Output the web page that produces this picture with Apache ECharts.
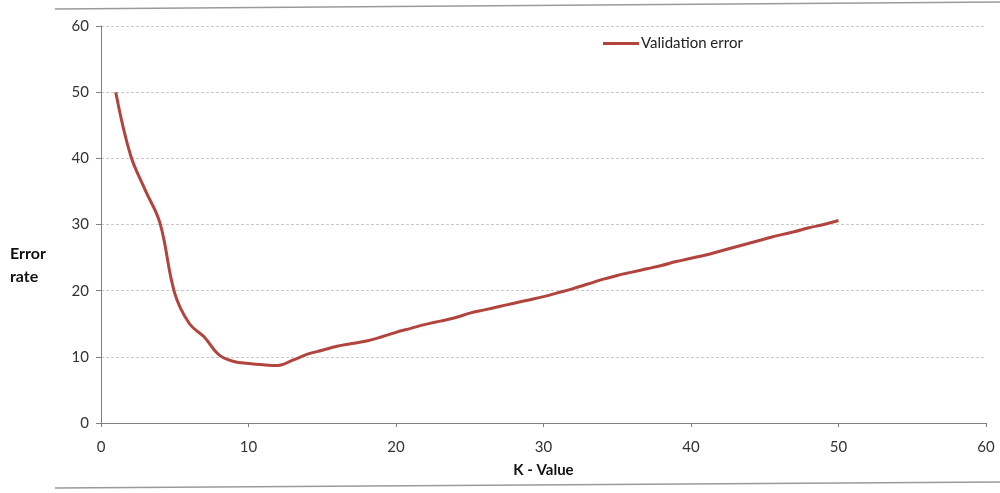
<!DOCTYPE html>
<html>
<head>
<meta charset="UTF-8">
<title>Error rate vs K</title>
<script type="text/javascript" src="https://cdn.jsdelivr.net/npm/echarts@6/dist/echarts.min.js"></script>
<style>
  html, body { margin: 0; padding: 0; background: #fff; }
  #main { width: 1000px; height: 493px; }
</style>
</head>
<body>
<div id="main"></div>
<script type="text/javascript">
// K values and validation error
var kValues = [1, 2, 3, 4, 5, 6, 7, 8, 9, 10,
               11, 12, 13, 14, 15, 16, 17, 18, 19, 20,
               21, 22, 23, 24, 25, 26, 27, 28, 29, 30,
               31, 32, 33, 34, 35, 36, 37, 38, 39, 40,
               41, 42, 43, 44, 45, 46, 47, 48, 49, 50];
var validationError = [50, 40.5, 35.2, 30.2, 19.6, 15.0, 13.0, 10.3, 9.3, 9.0,
                       8.8, 8.7, 9.5, 10.4, 11.0, 11.6, 12.0, 12.4, 13.0, 13.7,
                       14.3, 14.9, 15.4, 15.9, 16.6, 17.1, 17.6, 18.1, 18.6, 19.1,
                       19.7, 20.3, 21.0, 21.7, 22.3, 22.8, 23.3, 23.8, 24.4, 24.9,
                       25.4, 26.0, 26.6, 27.2, 27.8, 28.4, 28.9, 29.5, 30.0, 30.6];
var seriesName = 'Validation error';

var points = [];
for (var i = 0; i < kValues.length; i++) {
  points.push([kValues[i], validationError[i]]);
}

var chart = echarts.init(document.getElementById('main'));
var font = 'Lato, "Open Sans", sans-serif';

var option = {
  animation: false,
  backgroundColor: '#ffffff',
  grid: { left: 101, right: 14, top: 26, bottom: 70 },
  legend: {
    left: 598,
    top: 31,
    data: [{ name: seriesName, icon: 'rect' }],
    itemWidth: 36,
    itemHeight: 3,
    itemGap: 4,
    textStyle: { fontFamily: font, fontSize: 15, color: '#222', padding: [0, 0, 0, -3] }
  },
  xAxis: {
    type: 'value',
    min: 0,
    max: 60,
    interval: 10,
    name: 'K - Value',
    nameLocation: 'middle',
    nameGap: 40,
    nameTextStyle: { fontFamily: font, fontSize: 15, fontWeight: 'bold', color: '#111' },
    axisLine: { lineStyle: { color: '#808080', width: 1 } },
    axisTick: { show: true, length: 4, lineStyle: { color: '#808080' } },
    axisLabel: { margin: 17, fontFamily: font, fontSize: 15, color: '#333' },
    splitLine: { show: false }
  },
  yAxis: {
    type: 'value',
    min: 0,
    max: 60,
    interval: 10,
    axisLine: { show: true, lineStyle: { color: '#808080', width: 1 } },
    axisTick: { show: true, length: 5, lineStyle: { color: '#808080' } },
    axisLabel: { margin: 12, fontFamily: font, fontSize: 15, color: '#333' },
    splitLine: { show: true, lineStyle: { color: '#c8c8c8', type: [3, 2], width: 1 } }
  },
  graphic: [
    { type: 'line', shape: { x1: 55, y1: 9, x2: 1000, y2: 2 }, style: { stroke: '#9a9a9a', lineWidth: 1.5 } },
    { type: 'line', shape: { x1: 55, y1: 488, x2: 1000, y2: 482 }, style: { stroke: '#9a9a9a', lineWidth: 1.5 } },
    // y axis title, two left-aligned lines like the original
    { type: 'text', left: 10, top: 242,
      style: { text: 'Error\nrate', fontFamily: font, fontSize: 16, fontWeight: 'bold', fill: '#111', lineHeight: 23 } }
  ],
  series: [{
    name: seriesName,
    type: 'line',
    data: points,
    smooth: 0.4,
    symbol: 'none',
    lineStyle: { color: '#b2443e', width: 3 },
    itemStyle: { color: '#b2443e' }
  }]
};
chart.setOption(option);
</script>
</body>
</html>
